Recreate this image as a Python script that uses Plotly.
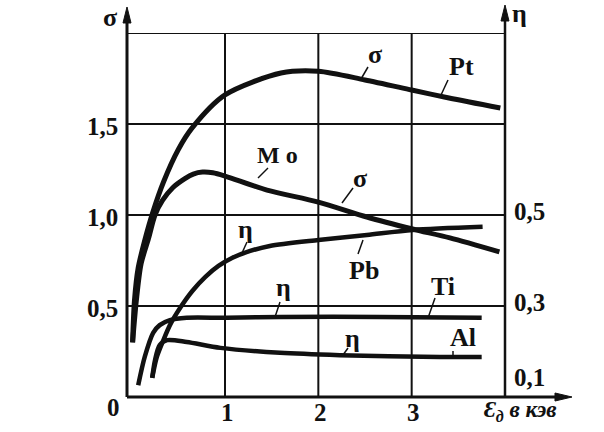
import plotly.graph_objects as go

# ---------------- data ----------------
# sigma curves (left axis)
pt_x = [0.01, 0.03, 0.07, 0.14, 0.23, 0.34, 0.50, 0.65, 1.00, 1.60, 2.00, 2.50, 3.00, 3.40, 3.95]
pt_sigma = [0.30, 0.53, 0.71, 0.86, 1.02, 1.18, 1.36, 1.48, 1.66, 1.78, 1.79, 1.742, 1.687, 1.643, 1.588]

mo_x = [0.01, 0.05, 0.10, 0.18, 0.25, 0.33, 0.44, 0.57, 0.66, 0.76, 0.87, 1.00, 1.45, 2.00, 2.52, 3.01, 3.41, 3.94]
mo_sigma = [0.30, 0.53, 0.73, 0.87, 1.00, 1.08, 1.15, 1.20, 1.225, 1.236, 1.232, 1.214, 1.137, 1.071, 0.989, 0.923, 0.874, 0.797]

# eta curves (right axis)
pb_x = [0.22, 0.27, 0.34, 0.41, 0.52, 0.65, 0.79, 0.93, 1.08, 1.27, 1.48, 2.00, 2.52, 3.01, 3.76]
pb_eta = [0.142, 0.188, 0.225, 0.258, 0.296, 0.333, 0.364, 0.388, 0.406, 0.421, 0.432, 0.445, 0.456, 0.467, 0.474]

ti_x = [0.07, 0.14, 0.23, 0.30, 0.41, 0.59, 1.02, 1.59, 2.66, 3.75]
ti_eta = [0.126, 0.188, 0.241, 0.258, 0.269, 0.274, 0.274, 0.276, 0.276, 0.274]

al_x = [0.22, 0.25, 0.30, 0.38, 0.59, 0.95, 1.59, 2.23, 3.30, 3.75]
al_eta = [0.142, 0.181, 0.214, 0.225, 0.221, 0.208, 0.197, 0.192, 0.188, 0.188]

# ticks
x_ticks = [1, 2, 3]
x_ticktext = ["1", "2", "3"]
sigma_ticks = [0, 0.5, 1.0, 1.5]
sigma_ticktext = ["0", "0,5", "1,0", "1,5"]
eta_ticks = [0.1, 0.3, 0.5]
eta_ticktext = ["0,1", "0,3", "0,5"]
x_grid = [1, 2, 3]
sigma_grid = [0.5, 1.0, 1.5, 2.0]

# ---------------- layout geometry ----------------
W, H = 604, 432
L, R, T, B = 127, 99, 33, 35
PW, PH = W - L - R, H - T - B
XR = [-0.05, 4.0]
YR = [0.0, 2.0]
Y2R = [0.1, 0.9]

FONT = "Liberation Serif, DejaVu Serif, serif"
INK = "#111111"


def paper(xp, yp):
    """pixel position in window -> paper coordinates"""
    return (xp - L) / PW, (H - B - yp) / PH


fig = go.Figure()

curves = [
    (pt_x, pt_sigma, "y", 5),
    (mo_x, mo_sigma, "y", 5),
    (pb_x, pb_eta, "y2", 4.5),
    (ti_x, ti_eta, "y2", 4.5),
    (al_x, al_eta, "y2", 4.5),
]
for xs, ys, ax, w in curves:
    fig.add_trace(go.Scatter(x=xs, y=ys, yaxis=ax, mode="lines",
                             line=dict(color=INK, width=w, shape="spline", smoothing=0.8),
                             showlegend=False, hoverinfo="skip"))

shapes = []
for v in x_grid:
    shapes.append(dict(type="line", xref="x", yref="y", x0=v, x1=v, y0=0, y1=2.0,
                       line=dict(color=INK, width=2)))
for v in sigma_grid:
    shapes.append(dict(type="line", xref="paper", yref="y", x0=0, x1=1, y0=v, y1=v,
                       line=dict(color=INK, width=2)))


def seg(p0, p1, width):
    x0, y0 = paper(*p0)
    x1, y1 = paper(*p1)
    shapes.append(dict(type="line", xref="paper", yref="paper", x0=x0, y0=y0, x1=x1, y1=y1,
                       line=dict(color=INK, width=width)))


def tri(pts):
    pp = [paper(*p) for p in pts]
    path = "M %f %f L %f %f L %f %f Z" % (pp[0][0], pp[0][1], pp[1][0], pp[1][1], pp[2][0], pp[2][1])
    shapes.append(dict(type="path", xref="paper", yref="paper", path=path,
                       fillcolor=INK, line=dict(color=INK, width=1)))


# axes with arrow heads
seg((L, H - B), (L, 20), 3)
tri([(L, 7), (L - 4, 23), (L + 4, 23)])
seg((W - R, H - B), (W - R, 18), 2.5)
tri([(W - R, 5), (W - R - 4, 21), (W - R + 4, 21)])
seg((L, H - B), (556, H - B), 3)
tri([(572, H - B), (555, H - B - 4), (555, H - B + 4)])

ann = []


def text(xp, yp, s, size, **kw):
    px_, py_ = paper(xp, yp)
    d = dict(xref="paper", yref="paper", x=px_, y=py_, text=s, showarrow=False,
             font=dict(family=FONT, size=size, color=INK), xanchor="center", yanchor="middle")
    d.update(kw)
    ann.append(d)


# tick labels
for v, t in zip(x_ticks, x_ticktext):
    ann.append(dict(xref="x", yref="paper", x=v, y=0, yshift=-15, xshift=2, text="<b>%s</b>" % t,
                    showarrow=False, font=dict(family=FONT, size=25, color=INK),
                    xanchor="center", yanchor="middle"))
for v, t in zip(sigma_ticks, sigma_ticktext):
    shift_y = -10 if v == 0 else -2
    shift_x = -5 if v == 0 else -7
    ann.append(dict(xref="paper", yref="y", x=0, y=v, xshift=shift_x, yshift=shift_y,
                    text="<b>%s</b>" % t, showarrow=False,
                    font=dict(family=FONT, size=25, color=INK), xanchor="right", yanchor="middle"))
for v, t in zip(eta_ticks, eta_ticktext):
    shift_y = 20 if v == Y2R[0] else 4
    ann.append(dict(xref="paper", yref="y2", x=1, y=v, xshift=7, yshift=shift_y,
                    text="<b>%s</b>" % t, showarrow=False,
                    font=dict(family=FONT, size=25, color=INK), xanchor="left", yanchor="middle"))

# axis titles
text(110, 18, "<b>σ</b>", 26)
text(519, 14, "<b>η</b>", 26)
text(520, 411, "<b><i>Ɛ<sub>д</sub> в кэв</i></b>", 23)

# curve labels
text(375, 54, "<b>σ</b>", 26)
text(461, 66, "<b>Pt</b>", 26)
text(277, 155, "<b>M o</b>", 24)
text(360, 178, "<b>σ</b>", 26)
text(245, 229, "<b>η</b>", 26)
text(364, 270, "<b>Pb</b>", 26)
text(283, 287, "<b>η</b>", 26)
text(443, 286, "<b>Ti</b>", 26)
text(352, 338, "<b>η</b>", 26)
text(463, 337, "<b>Al</b>", 26)

# leader lines from labels to curves
seg((368, 67), (361, 79), 1.5)
seg((448, 80), (441, 95), 1.5)
seg((268, 168), (258, 178), 1.5)
seg((353, 188), (342, 203), 1.5)
seg((247, 242), (242, 253), 1.5)
seg((363, 240), (358, 254), 1.5)
seg((280, 302), (275, 317), 1.5)
seg((435, 298), (428, 318), 1.5)
seg((348, 348), (343, 355), 1.5)
seg((453, 351), (453, 357), 1.5)

axis_common = dict(showgrid=False, zeroline=False, showticklabels=False, showline=False, ticks="")
fig.update_layout(
    width=W, height=H,
    margin=dict(l=L, r=R, t=T, b=B, pad=0),
    paper_bgcolor="white", plot_bgcolor="white",
    xaxis=dict(range=XR, fixedrange=True, **axis_common),
    yaxis=dict(range=YR, fixedrange=True, **axis_common),
    yaxis2=dict(range=Y2R, overlaying="y", side="right", fixedrange=True, **axis_common),
    shapes=shapes, annotations=ann, showlegend=False,
)

fig.write_html("out.html", config={"displayModeBar": False, "staticPlot": True},
               post_script="document.body.style.margin='0';document.body.style.overflow='hidden';")
